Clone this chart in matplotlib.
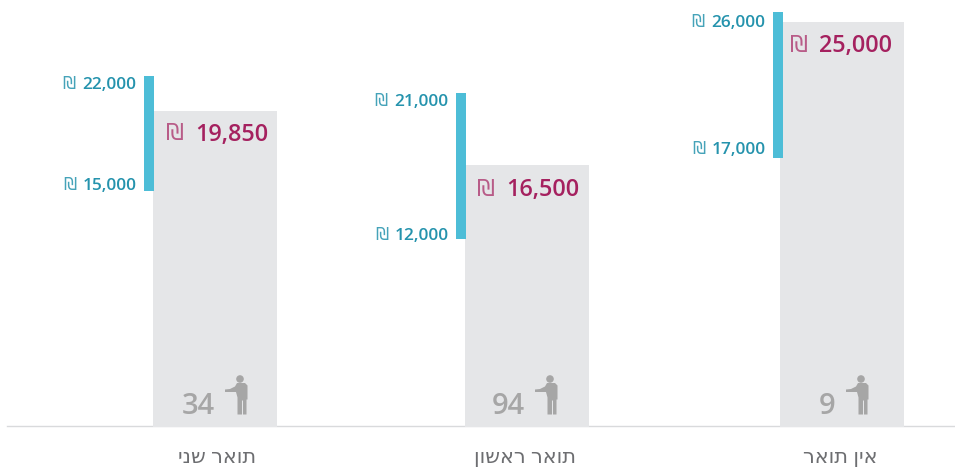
import matplotlib
matplotlib.use("Agg")
import matplotlib.pyplot as plt
from matplotlib.patches import Polygon, Ellipse

categories = ["תואר שני", "תואר ראשון", "אין תואר"]
median_labels = [19850, 16500, 25000]
low_labels = [15000, 12000, 17000]
high_labels = [22000, 21000, 26000]
respondents = [34, 94, 9]
# Drawn heights as measured on the picture
median_heights = [19810, 16415, 25400]
low_heights = [14780, 11760, 16855]
high_heights = [22010, 20940, 26040]

W, H = 955, 468
BASE = 426
SCALE = 0.0159
centers = [215, 527, 842]
range_x = [149, 461, 778]
cat_x = [217, 525, 840]
high_y = [85, 102, 23]
low_y = [186, 236, 150]
median_y = [135, 190, 46]
median_right = [268, 579, 892]
count_right = [214.5, 524.5, 835]
icon_x = [240, 550, 861]
BAR_W = 124
RANGE_W = 10
GREY = "#e5e6e8"
BLUE = "#4dbdd7"
TEAL = "#2593ad"
MAGENTA = "#a5215f"
ICON = "#a6a6a6"
FONT = ["Open Sans", "DejaVu Sans"]

fig = plt.figure(figsize=(W / 100, H / 100), dpi=100)
ax = fig.add_axes([0, 0, 1, 1])
ax.set_xlim(0, W)
ax.set_ylim(-(H - BASE) / SCALE, BASE / SCALE)
ax.axis("off")
px = 1 / SCALE  # data units per pixel vertically


def Y(p):
    return (BASE - p) * px


def money(x, y, value, color, size, sym_size, gap, alpha):
    ax.text(x, Y(y), f"{value:,}", color=color, fontsize=size, fontweight=600,
            family=FONT, ha="right", va="center", zorder=5)
    ax.text(x - gap, Y(y - 1), "\u20aa", color=color, fontsize=sym_size, alpha=alpha,
            family="DejaVu Sans", ha="right", va="center", zorder=5)


def person(cx, top):
    def P(x, y):
        return (cx + x, Y(top + y))
    body = [P(-3, 7.5), P(5, 7.5), P(7.5, 10), P(7.5, 24), P(6.5, 24), P(6.5, 39),
            P(3, 39), P(3, 25), P(2, 25), P(2, 39), P(-2.5, 39), P(-2.5, 22),
            P(-4, 16.5), P(-10, 16.5), P(-15, 16.5), P(-15, 14), P(-10, 13.5), P(-5, 11)]
    ax.add_patch(Polygon(body, closed=True, fc=ICON, ec="none", zorder=4))
    hx, hy = P(0, 3.5)
    ax.add_patch(Ellipse((hx, hy), 7.6, 7.6 * px, fc=ICON, ec="none", zorder=4))


ax.plot([7, W], [0, 0], color="#d9dadc", lw=1.0, zorder=1)

for i, c in enumerate(centers):
    ax.bar(c, median_heights[i] + 1.0 * px, width=BAR_W, bottom=-1.0 * px, color=GREY, zorder=2)
    ax.bar(range_x[i], high_heights[i] - low_heights[i], width=RANGE_W,
           bottom=low_heights[i], color=BLUE, zorder=3)
    lx = range_x[i] - 13
    money(lx, high_y[i], high_labels[i], TEAL, 12.4, 12, 61, 0.85)
    money(lx + 1, low_y[i], low_labels[i], TEAL, 12.4, 12, 61, 0.85)
    money(median_right[i], median_y[i], median_labels[i], MAGENTA, 16.8, 16.5, 84, 0.7)
    ax.text(cat_x[i], Y(458), categories[i][::-1], color="#6d6e71", fontsize=15,
            fontweight=300, family=FONT, ha="center", va="center")
    ax.text(count_right[i], Y(406), str(respondents[i]), color=ICON, fontsize=21,
            fontweight=600, family=FONT, ha="right", va="center", zorder=5)
    person(icon_x[i], 375.5)

fig.savefig("out.png", dpi=100)
